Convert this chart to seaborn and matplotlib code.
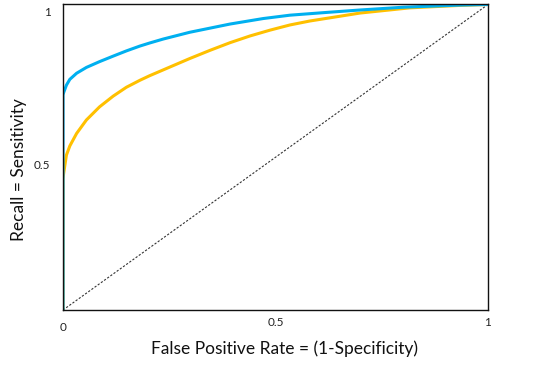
import numpy as np
import pandas as pd
import matplotlib
matplotlib.use("Agg")
import matplotlib.pyplot as plt
import matplotlib.transforms as mtransforms
import seaborn as sns

# --- Data ---
fpr_blue = [0.0, 0.0, 0.0016, 0.008, 0.016, 0.032, 0.055, 0.086, 0.118, 0.149, 0.181,
            0.204, 0.236, 0.298, 0.393, 0.471, 0.534, 0.62, 0.699, 0.80, 0.934, 1.0]
tpr_blue = [0.0, 0.704, 0.712, 0.736, 0.755, 0.775, 0.794, 0.813, 0.831, 0.848, 0.864,
            0.874, 0.887, 0.909, 0.936, 0.954, 0.965, 0.974, 0.982, 0.991, 0.998, 1.0]

fpr_yellow = [0.0, 0.0, 0.0016, 0.008, 0.016, 0.032, 0.055, 0.086, 0.118, 0.149, 0.181,
              0.204, 0.251, 0.298, 0.346, 0.393, 0.440, 0.487, 0.534, 0.581, 0.699,
              0.816, 0.934, 1.0]
tpr_yellow = [0.0, 0.43, 0.448, 0.507, 0.537, 0.578, 0.622, 0.665, 0.700, 0.729, 0.752,
              0.767, 0.795, 0.823, 0.850, 0.875, 0.897, 0.916, 0.933, 0.946, 0.972,
              0.989, 0.997, 1.0]

chance = [0.0, 1.0]

x_ticks = [0, 0.5, 1]
x_ticklabels = ["0", "0.5", "1"]
y_ticks = [0.5, 1]
y_ticklabels = ["0.5", "1"]

BLUE = "#00B0F0"
YELLOW = "#FFC000"

sns.set_theme(style="white")
plt.rcParams["font.family"] = ["Lato", "DejaVu Sans"]

fig = plt.figure(figsize=(5.48, 3.68), dpi=100)
ax = fig.add_axes([0.115, 0.1576, 0.7755, 0.8302])

# diagonal reference
sns.lineplot(x=chance, y=chance, ax=ax, color="#333333", lw=0.8,
             linestyle=(0, (2, 1.5)), estimator=None, sort=False)
sns.lineplot(x=fpr_yellow, y=tpr_yellow, ax=ax, color=YELLOW, lw=2.2,
             estimator=None, sort=False)
sns.lineplot(x=fpr_blue, y=tpr_blue, ax=ax, color=BLUE, lw=2.2,
             estimator=None, sort=False)

ax.set_xlim(0, 1)
ax.set_ylim(0, 1)
ax.set_xticks(x_ticks)
ax.set_xticklabels(x_ticklabels)
ax.set_yticks(y_ticks)
ax.set_yticklabels(y_ticklabels)
ax.tick_params(length=0, labelsize=8.5, colors="#222222")
ax.tick_params(axis="x", pad=5)
ax.tick_params(axis="y", pad=9)

# the reference drops the tick labels a few pixels
for lbl in ax.get_yticklabels():
    lbl.set_transform(lbl.get_transform() +
                      mtransforms.ScaledTranslation(0, -7 / 100, fig.dpi_scale_trans))
xl = ax.get_xticklabels()
xl[0].set_transform(xl[0].get_transform() +
                    mtransforms.ScaledTranslation(0, -5 / 100, fig.dpi_scale_trans))

for s in ax.spines.values():
    s.set_color("#111111")
    s.set_linewidth(1.0)

ax.set_xlabel("False Positive Rate = (1-Specificity)", fontsize=12.5, color="#111111")
ax.set_ylabel("Recall = Sensitivity", fontsize=12.5, color="#111111")
ax.yaxis.set_label_coords(-0.085, 0.46)
ax.xaxis.set_label_coords(0.52, -0.1)

fig.savefig("out.png", dpi=100)
